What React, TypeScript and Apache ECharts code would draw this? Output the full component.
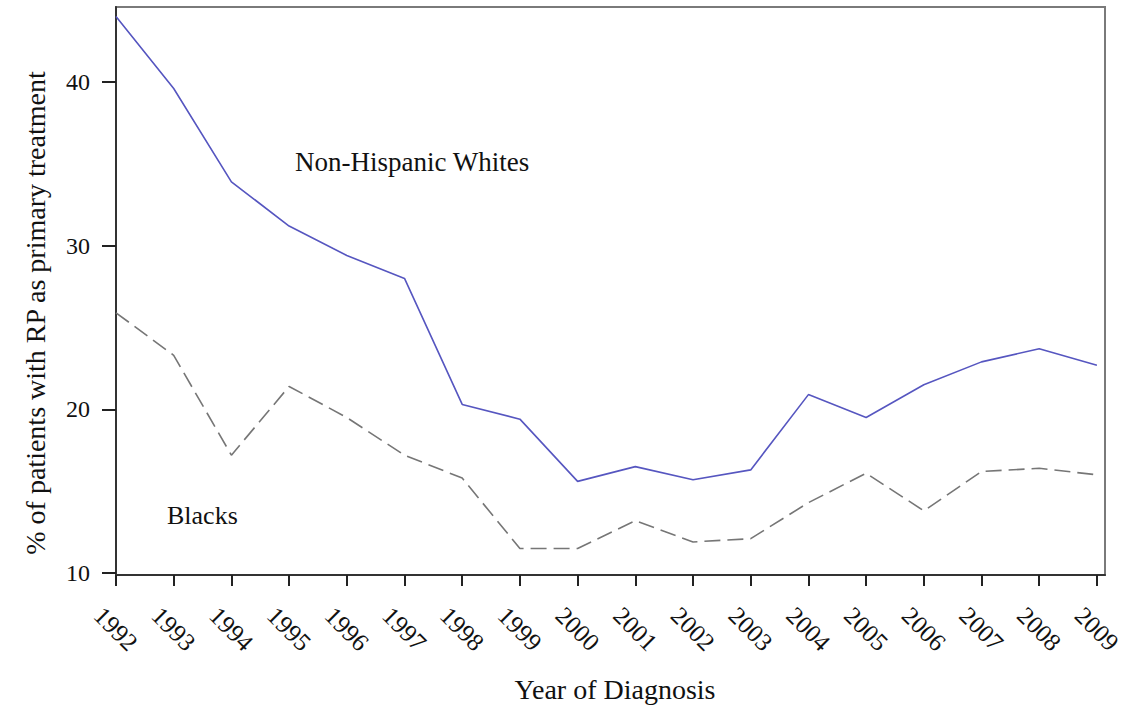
import React, { useEffect, useRef } from "react";
import * as echarts from "echarts";

// Year of diagnosis (x) and share of patients treated with radical prostatectomy (y, %)
const years: number[] = [
  1992, 1993, 1994, 1995, 1996, 1997, 1998, 1999, 2000,
  2001, 2002, 2003, 2004, 2005, 2006, 2007, 2008, 2009,
];
const whites: number[] = [
  44.0, 39.6, 33.9, 31.2, 29.4, 28.0, 20.3, 19.4, 15.6,
  16.5, 15.7, 16.3, 20.9, 19.5, 21.5, 22.9, 23.7, 22.7,
];
const blacks: number[] = [
  25.9, 23.3, 17.2, 21.4, 19.5, 17.2, 15.8, 11.5, 11.5,
  13.2, 11.9, 12.1, 14.3, 16.1, 13.8, 16.2, 16.4, 16.0,
];
const yTicks: number[] = [10, 20, 30, 40];

const FONT = "Liberation Serif";

export default function App() {
  const ref = useRef<HTMLDivElement>(null);

  useEffect(() => {
    if (!ref.current) return;
    const chart = echarts.init(ref.current, null, { renderer: "svg" });

    const pair = (vals: number[]) => years.map((y, i) => [y, vals[i]]);

    chart.setOption({
      animation: false,
      backgroundColor: "#ffffff",
      textStyle: { fontFamily: FONT },
      grid: {
        left: 116,
        top: 7,
        right: 22,
        bottom: 132,
        show: true,
        borderColor: "#7a7a7a",
        borderWidth: 2,
        backgroundColor: "transparent",
      },
      xAxis: {
        type: "value",
        min: 1992,
        max: 2009.14,
        splitLine: { show: false },
        axisLine: { show: true, lineStyle: { color: "#333", width: 2 } },
        axisTick: {
          show: true,
          inside: false,
          length: 11,
          customValues: years,
          lineStyle: { color: "#222", width: 2 },
        },
        axisLabel: {
          customValues: years,
          formatter: (v: number) => String(Math.round(v)),
          rotate: -45,
          align: "center",
          verticalAlign: "middle",
          margin: 54,
          fontFamily: FONT,
          fontSize: 25,
          color: "#111",
        },
      },
      yAxis: {
        type: "value",
        min: 9.88,
        max: 44.58,
        splitLine: { show: false },
        axisLine: { show: true, lineStyle: { color: "#333", width: 2 } },
        axisTick: {
          show: true,
          inside: false,
          length: 14,
          customValues: yTicks,
          lineStyle: { color: "#222", width: 2 },
        },
        axisLabel: {
          customValues: yTicks,
          formatter: (v: number) => String(Math.round(v)),
          margin: 26,
          fontFamily: FONT,
          fontSize: 24,
          color: "#111",
        },
      },
      series: [
        {
          name: "Non-Hispanic Whites",
          type: "line",
          data: pair(whites),
          symbol: "none",
          lineStyle: { color: "#5656c0", width: 1.6 },
        },
        {
          name: "Blacks",
          type: "line",
          data: pair(blacks),
          symbol: "none",
          lineStyle: { color: "#767676", width: 1.6, type: [16, 7] },
        },
      ],
      graphic: [
        {
          type: "text",
          x: 295,
          y: 162,
          style: {
            text: "Non-Hispanic Whites",
            fontFamily: FONT,
            fontSize: 27,
            fill: "#111",
            align: "left",
            verticalAlign: "middle",
          },
        },
        {
          type: "text",
          x: 167,
          y: 515,
          style: {
            text: "Blacks",
            fontFamily: FONT,
            fontSize: 26,
            fill: "#111",
            align: "left",
            verticalAlign: "middle",
          },
        },
        {
          type: "text",
          x: 615,
          y: 689,
          style: {
            text: "Year of Diagnosis",
            fontFamily: FONT,
            fontSize: 28,
            fill: "#111",
            align: "center",
            verticalAlign: "middle",
          },
        },
        {
          type: "text",
          x: 35,
          y: 313,
          rotation: Math.PI / 2,
          style: {
            text: "% of patients with RP as primary treatment",
            fontFamily: FONT,
            fontSize: 28,
            fill: "#111",
            align: "center",
            verticalAlign: "middle",
          },
        },
      ],
    });

    return () => chart.dispose();
  }, []);

  return (
    <div
      ref={ref}
      style={{ position: "fixed", left: 0, top: 0, width: 1127, height: 707 }}
    />
  );
}
